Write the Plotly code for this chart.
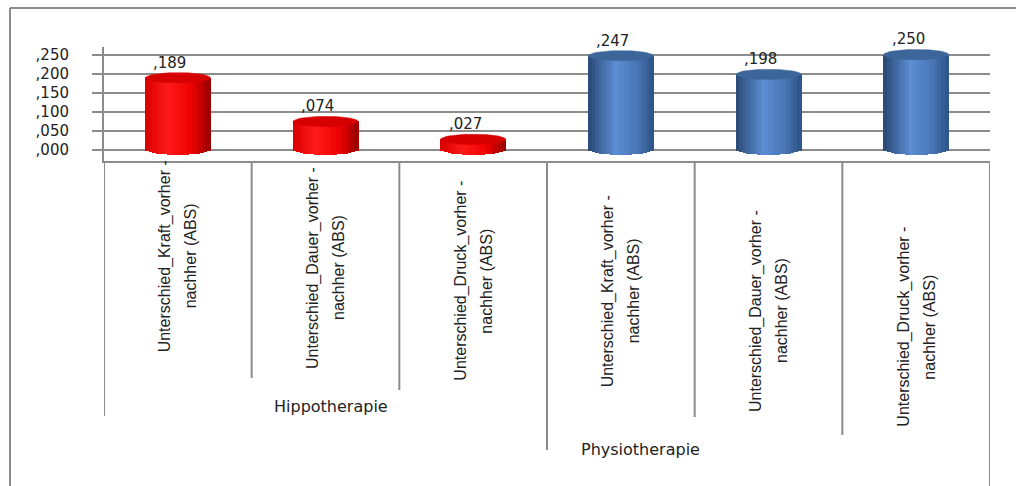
import numpy as np
import plotly.graph_objects as go

# ---------------- data ----------------
groups = ["Hippotherapie", "Physiotherapie"]
categories = [
    "Unterschied_Kraft_vorher -<br>nachher (ABS)",
    "Unterschied_Dauer_vorher -<br>nachher (ABS)",
    "Unterschied_Druck_vorher -<br>nachher (ABS)",
]
hippo_values = [0.189, 0.074, 0.027]
physio_values = [0.247, 0.198, 0.250]
tick_values = [0.0, 0.05, 0.10, 0.15, 0.20, 0.25]
tick_labels = [",000", ",050", ",100", ",150", ",200", ",250"]

# ---------------- layout geometry (pixels) ----------------
W, H = 1016, 486
ML, MR, MT, MB = 104, 26, 47, 325
PW, PH = W - ML - MR, H - MT - MB
YMIN, YMAX = -0.03, 0.27


def pxx(px):
    return (px - ML) / PW


def pxy(py):
    return (H - MB - py) / PH


BAR_W = 0.44           # in category units
RY = 0.0135            # ellipse half height in data units
N_STRIPS = 18

red_stops = [(0.0, "#D80000"), (0.35, "#FF1A1A"), (0.72, "#EE0000"), (1.0, "#980000")]
blue_stops = [(0.0, "#294873"), (0.42, "#5C8DD3"), (0.76, "#4876B5"), (1.0, "#2D5386")]
red_top = "#D60000"
blue_top = "#3C6699"


def hex2rgb(h):
    h = h.lstrip("#")
    return [int(h[i:i + 2], 16) for i in (0, 2, 4)]


def interp(stops, t):
    for (p0, c0), (p1, c1) in zip(stops[:-1], stops[1:]):
        if p0 <= t <= p1:
            f = (t - p0) / (p1 - p0)
            a, b = hex2rgb(c0), hex2rgb(c1)
            c = [round(a[i] + (b[i] - a[i]) * f) for i in range(3)]
            return "rgb(%d,%d,%d)" % tuple(c)
    return stops[-1][1]


fig = go.Figure()

series = [
    (hippo_values, [0, 1, 2], red_stops, red_top),
    (physio_values, [3, 4, 5], blue_stops, blue_top),
]

sw = BAR_W / N_STRIPS
for values, xs, stops, top in series:
    vals = np.array(values)
    for k in range(N_STRIPS):
        t = (k + 0.5) / N_STRIPS
        u = 2 * t - 1
        depth = RY * np.sqrt(max(0.0, 1 - u * u))
        fig.add_trace(go.Bar(
            x=xs, y=vals + depth, base=[-depth] * len(xs),
            width=sw * 1.25, offset=-BAR_W / 2 + k * sw - sw * 0.1,
            marker=dict(color=interp(stops, t), line=dict(width=0)),
            showlegend=False, hoverinfo="skip",
        ))
    th = np.linspace(0, 2 * np.pi, 60)
    for xi, v in zip(xs, values):
        fig.add_trace(go.Scatter(
            x=xi + BAR_W / 2 * np.cos(th), y=v + RY * np.sin(th),
            mode="lines", fill="toself", fillcolor=top,
            line=dict(color=top, width=0.5),
            showlegend=False, hoverinfo="skip",
        ))

# data labels
for values, xs, _, _ in series:
    for xi, v in zip(xs, values):
        fig.add_annotation(
            x=xi, y=v + RY, xref="x", yref="y",
            text=("%.3f" % v).lstrip("0").replace(".", ","),
            showarrow=False, yanchor="bottom", xshift=-8, yshift=-1,
            font=dict(family="DejaVu Sans", size=15, color="#222222"),
        )

# category labels (rotated, two lines each)
label_centers_py = [256, 268, 281, 291, 311, 327]
all_cats = categories + categories
for i, (txt, cy) in enumerate(zip(all_cats, label_centers_py)):
    lines = txt.split("<br>")
    for li, part in enumerate(lines):
        fig.add_annotation(
            x=i, y=pxy(cy), xref="x", yref="paper", text=part, textangle=-90,
            showarrow=False, xanchor="center", yanchor="middle",
            xshift=(li - (len(lines) - 1) / 2) * 25,
            font=dict(family="Liberation Sans Narrow, Liberation Sans", size=16, color="#222222"),
        )

# group labels
group_pos = [(pxx(272), pxy(418)), (pxx(702), pxy(461))]
for g, (gx, gy) in zip(groups, group_pos):
    fig.add_annotation(
        x=gx, y=gy, xref="paper", yref="paper", text=g, showarrow=False,
        font=dict(family="DejaVu Sans", size=16, color="#222222"),
    )

# divider lines under the axis
line_col = "#8C8C8C"
div_ends = [416, 378, 390, 450, 417, 435, 486]
for j, end in enumerate(div_ends):
    fig.add_shape(type="line", xref="x", yref="paper",
                  x0=j - 0.5, x1=j - 0.5, y0=0, y1=pxy(end),
                  line=dict(color=line_col, width=2))

# chart border (left + top)
fig.add_shape(type="line", xref="paper", yref="paper",
              x0=pxx(10), x1=pxx(10), y0=pxy(8), y1=pxy(486),
              line=dict(color=line_col, width=2))
fig.add_shape(type="line", xref="paper", yref="paper",
              x0=pxx(10), x1=pxx(1016), y0=pxy(8), y1=pxy(8),
              line=dict(color=line_col, width=2))

fig.update_layout(
    width=W, height=H,
    margin=dict(l=ML, r=MR, t=MT, b=MB, autoexpand=False),
    paper_bgcolor="white", plot_bgcolor="white",
    barmode="overlay", bargap=0,
    showlegend=False,
    xaxis=dict(range=[-0.5, 5.5], showticklabels=False, showgrid=False,
               zeroline=False, showline=True, linecolor=line_col, linewidth=2,
               ticks=""),
    yaxis=dict(range=[YMIN, YMAX], tickvals=tick_values, ticktext=tick_labels,
               showgrid=True, gridcolor=line_col, gridwidth=1.5,
               zeroline=False, showline=True, linecolor=line_col, linewidth=2,
               ticks="outside", ticklen=10, tickcolor=line_col, tickwidth=1.5,
               ticklabelstandoff=20,
               tickfont=dict(family="DejaVu Sans", size=15, color="#222222")),
)

fig.write_html("out.html")
